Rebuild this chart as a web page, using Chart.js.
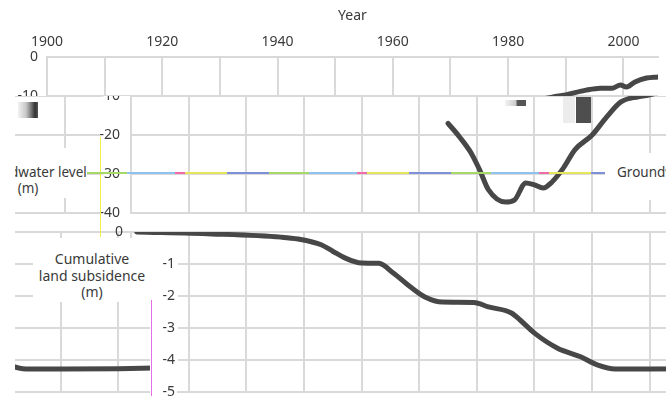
<!DOCTYPE html>
<html>
<head>
<meta charset="utf-8">
<script src="https://cdn.jsdelivr.net/npm/chart.js@4"></script>
<style>
html, body { margin: 0; padding: 0; background: #fff; }
#page { position: relative; width: 666px; height: 396px; overflow: hidden; background: #fff;
        font-family: "Noto Sans", sans-serif; color: #3a3a3a; }
#charts { position: absolute; left: 0; top: 0; width: 666px; height: 396px; }
.view { position: absolute; overflow: hidden; }
.view canvas { position: absolute; }
.label { position: absolute; background: #fff; overflow: hidden; font-size: 14px; line-height: 16.5px; }
.label div { position: absolute; text-align: center; white-space: nowrap; }
.label.gw { font-size: 13.5px; line-height: 16px; }
.mark { position: absolute; }
</style>
</head>
<body>
<div id="page">
  <div id="charts"></div>

  <div class="label gw" style="left:15px;top:148px;width:72px;height:50px;">
    <div style="left:-45px;top:16px;width:116px;">Groundwater level<br>(m)</div>
  </div>
  <div class="label gw" style="left:605px;top:153px;width:61px;height:47px;">
    <div style="left:12px;top:11px;width:130px;text-align:left;">Groundwater level<br><span style="padding-left:52px">(m)</span></div>
  </div>
  <div class="label" style="left:33px;top:238px;width:117px;height:64px;">
    <div style="left:-11px;top:13px;width:140px;">Cumulative<br>land subsidence<br>(m)</div>
  </div>

  <div class="mark" style="left:100px;top:137px;width:1px;height:100px;background:#f2ef4a;"></div>
  <div class="mark" style="left:151px;top:300px;width:1px;height:96px;background:#e46ee4;"></div>
  <div class="mark" style="left:87px;top:172px;width:518px;height:2px;
       background:repeating-linear-gradient(90deg,#a6d86a 0 40px,#8fc3ee 40px 88px,#f06aa8 88px 98px,#e6e65a 98px 140px,#7f90d8 140px 182px);"></div>
  <div class="mark" style="left:18px;top:102px;width:20px;height:16px;
       background:linear-gradient(90deg,#f2f2f2,#c8c8c8 40%,#8a8a8a 60%,#333 85%,#555);"></div>
  <div class="mark" style="left:563px;top:97px;width:12px;height:26px;background:#ececec;"></div>
  <div class="mark" style="left:576px;top:97px;width:15px;height:26px;background:#4e4e4e;"></div>
  <div class="mark" style="left:505px;top:100px;width:21px;height:6px;
       background:linear-gradient(90deg,#f4f4f4,#ccc 50%,#555 60%,#555);"></div>
</div>

<script>
// groundwater level (m) by year
const gwYears = [1955, 1957, 1959, 1960.5, 1962, 1965, 1966.5, 1968.5, 1970, 1971.5, 1973, 1975, 1977,
                 1980, 1982.5, 1985, 1988, 1990, 1993.5, 1996, 1998, 1999.5, 2000.5, 2002, 2004, 2006];
const gwLevel = [-17, -20.5, -24.6, -29, -34, -37.2, -36.7, -32.3, -32.8, -33.6, -32.1, -28.5, -23.8,
                 -20, -15.4, -11.5, -10.2, -9.7, -8.5, -8, -8, -7.2, -7.7, -6.4, -5.4, -5.1];

// cumulative land subsidence (m) by year
const subYears = [1901, 1914, 1926, 1929, 1933, 1935, 1937, 1940, 1943, 1945.5, 1948.5, 1951, 1954,
                  1959.5, 1962, 1966, 1967.5, 1970, 1974, 1978, 1981, 1984, 1990, 2000, 2006];
const subLevel = [0, -0.06, -0.16, -0.22, -0.4, -0.6, -0.8, -0.97, -0.98, -1.28, -1.72, -2.03, -2.19,
                  -2.2, -2.34, -2.53, -2.75, -3.16, -3.63, -3.9, -4.16, -4.28, -4.28, -4.27, -4.25];

// labelled years on the top axis
const yearTicks = [1900, 1920, 1940, 1960, 1980, 2000];

const gridColor = '#d9d9d9';
const textColor = '#3a3a3a';
const font = { family: '"Noto Sans", sans-serif', size: 14 };

function points(xs, ys) {
    return xs.map((x, i) => ({ x: x, y: ys[i] }));
}

function lineSet(data) {
    return {
        data: data,
        borderColor: '#474747',
        borderWidth: 5,
        pointRadius: 0,
        cubicInterpolationMode: 'monotone',
        borderCapStyle: 'round',
        borderJoinStyle: 'round'
    };
}

function decadesOnly(scale) {
    scale.ticks = scale.ticks.filter(t => Math.abs(t.value % 10) < 1e-6);
}

const baseOptions = {
    responsive: false,
    animation: false,
    events: [],
    plugins: { legend: { display: false }, tooltip: { enabled: false } }
};

function groundwaterChart(canvas, yPad, showLine) {
    return new Chart(canvas, {
        type: 'line',
        data: { datasets: [lineSet(showLine ? points(gwYears, gwLevel) : [])] },
        options: Object.assign({}, baseOptions, {
            layout: { padding: { left: 0, right: 8, top: 0, bottom: 396 - 213 } },
            scales: {
                x: {
                    type: 'linear', position: 'top', min: 1900, max: 2006,
                    afterBuildTicks: decadesOnly,
                    afterFit: s => { s.height = 57; },
                    ticks: {
                        stepSize: 10, includeBounds: false, autoSkip: false, maxRotation: 0, padding: 7,
                        color: textColor, font: font,
                        callback: v => yearTicks.includes(v) ? String(v) : ''
                    },
                    grid: { color: gridColor, lineWidth: 2, drawTicks: false },
                    border: { color: gridColor, width: 2 },
                    title: { display: true, text: 'Year', color: textColor, font: font,
                             padding: { top: 8, bottom: 0 } }
                },
                y: {
                    min: -40, max: 0,
                    afterFit: s => { s.width = 47; s.paddingTop = 0; s.paddingBottom = 0; },
                    ticks: { stepSize: 10, padding: yPad, color: textColor, font: font },
                    grid: { color: gridColor, lineWidth: 2, drawTicks: false },
                    border: { color: gridColor, width: 2 }
                }
            }
        })
    });
}

function subsidenceChart(canvas, xMin, axisWidth, yPad, showBorder) {
    return new Chart(canvas, {
        type: 'line',
        data: { datasets: [lineSet(points(subYears, subLevel))] },
        options: Object.assign({}, baseOptions, {
            layout: { padding: { left: 0, right: 8, top: 232, bottom: 4 } },
            scales: {
                x: {
                    type: 'linear', min: xMin, max: 2006,
                    afterBuildTicks: decadesOnly,
                    afterFit: s => { s.height = 0; },
                    ticks: { display: false, stepSize: 10, includeBounds: false },
                    grid: { color: gridColor, lineWidth: 2, drawTicks: false },
                    border: { color: gridColor, width: 2 }
                },
                y: {
                    min: -5, max: 0,
                    afterFit: s => { s.width = axisWidth; s.paddingTop = 0; s.paddingBottom = 0; },
                    ticks: { stepSize: 1, padding: yPad, color: textColor, font: font },
                    grid: { color: gridColor, lineWidth: 2, drawTicks: false },
                    border: { display: showBorder, color: gridColor, width: 2 }
                }
            }
        })
    });
}

// each view shows a clipped, horizontally offset copy of a chart
function view(x, y, w, h, dx, build) {
    const box = document.createElement('div');
    box.className = 'view';
    box.style.left = x + 'px';
    box.style.top = y + 'px';
    box.style.width = w + 'px';
    box.style.height = h + 'px';
    const c = document.createElement('canvas');
    c.width = 666;
    c.height = 396;
    c.style.left = (dx - x) + 'px';
    c.style.top = (-y) + 'px';
    box.appendChild(c);
    document.getElementById('charts').appendChild(box);
    build(c);
}

view(0, 0, 666, 96, 0, c => groundwaterChart(c, 9, true));
view(100, 96, 566, 128, 84, c => groundwaterChart(c, 11, true));
view(15, 96, 85, 128, -501, c => groundwaterChart(c, 9, false));
view(15, 224, 135, 172, -505, c => subsidenceChart(c, 1900, 47, 8, true));
view(100, 224, 566, 16, 84, c => subsidenceChart(c, 1900, 47, 8, true));
view(150, 240, 516, 156, 84, c => subsidenceChart(c, 1900 + (94 - 47) / 5.764, 94, 3, false));
</script>
</body>
</html>
